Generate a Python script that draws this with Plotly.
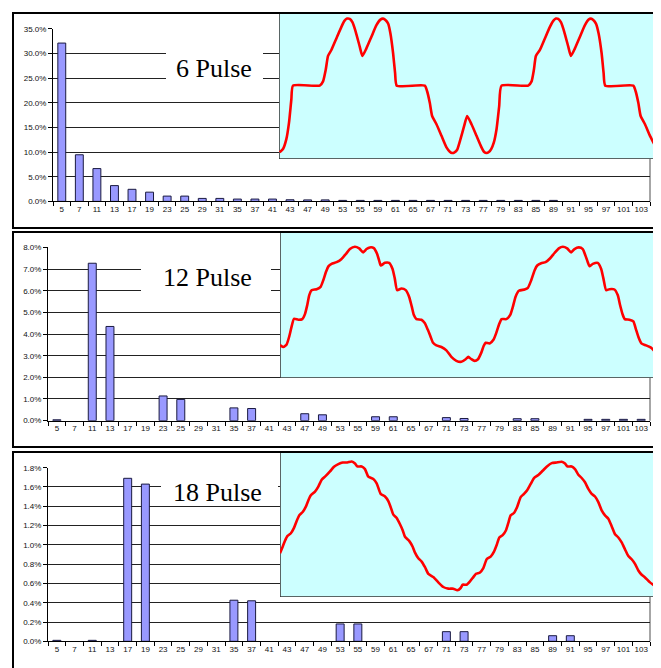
import plotly.graph_objects as go

# ---------------- data ----------------
harmonics = ["5", "7", "11", "13", "17", "19", "23", "25", "29", "31", "35", "37", "41", "43",
             "47", "49", "53", "55", "59", "61", "65", "67", "71", "73", "77", "79", "83", "85",
             "89", "91", "95", "97", "101", "103"]

pulse6 = [32.1, 9.45, 6.65, 3.2, 2.45, 1.87, 1.07, 1.07, 0.6, 0.6, 0.47, 0.47, 0.47, 0.33,
          0.3, 0.3, 0.2, 0.2, 0.2, 0.2, 0.2, 0.2, 0.2, 0.2, 0.2, 0.2, 0.2, 0.2,
          0.2, 0.0, 0.0, 0.0, 0.0, 0.0]

pulse12 = [0.04, 0.0, 7.27, 4.35, 0.0, 0.0, 1.14, 0.98, 0.0, 0.0, 0.59, 0.56, 0.0, 0.0,
           0.32, 0.27, 0.0, 0.0, 0.18, 0.18, 0.0, 0.0, 0.14, 0.1, 0.0, 0.0, 0.09, 0.09,
           0.0, 0.0, 0.06, 0.06, 0.06, 0.06]

pulse18 = [0.01, 0.0, 0.01, 0.0, 1.69, 1.63, 0.0, 0.0, 0.0, 0.0, 0.426, 0.42, 0.0, 0.0,
           0.0, 0.0, 0.18, 0.18, 0.0, 0.0, 0.0, 0.0, 0.1, 0.1, 0.0, 0.0, 0.0, 0.0,
           0.058, 0.058, 0.0, 0.0, 0.0, 0.0]

titles = ["6 Pulse", "12 Pulse", "18 Pulse"]

# waveforms (sample position, amplitude)
wave6_t = [30, 40, 50, 58, 65, 70, 150, 160, 168, 175, 185, 200, 215, 224, 232, 240, 248, 258, 270, 278,
           290, 305, 320, 332, 340, 347, 355, 362, 370, 376, 381, 465, 472, 480, 487, 500, 515, 530, 540,
           547, 554, 562, 572, 583, 592, 605, 620, 635, 643, 650, 657, 664, 672, 680, 688, 695, 775, 785,
           792, 798, 810, 825, 840, 850, 858, 865, 873, 883, 895, 903, 915, 930, 945, 956, 963, 970, 978,
           986, 995, 1001, 1006, 1090, 1097, 1105, 1112, 1125, 1140, 1158]
wave6_v = [-101, -96, -81, -56, -21, 0, 0, 6.5, 24, 45, 54, 71.5, 89, 98, 101.5, 101, 96, 81.5, 59, 45,
           56.5, 74, 91.5, 100, 101.5, 99.5, 94, 79, 49, 19, 0, 0, -8.5, -26, -46, -58.5, -76, -93.5, -100,
           -102, -101, -97, -81, -61, -46, -58.5, -76, -93.5, -100.5, -102, -100.5, -96, -86, -66, -31, 0, 0, 6.5,
           24, 45, 54, 71.5, 89, 98, 101.5, 101, 96, 81.5, 59, 45, 56.5, 74, 91.5, 100, 101.5, 99.5, 94,
           79, 49, 19, 0, 0, -8.5, -26, -46, -58.5, -76, -93.5]

wave12_t = [30, 40, 50, 58, 65, 72, 85, 97, 105, 112, 118, 125, 140, 152, 160, 168, 176, 185, 200, 215,
            228, 240, 255, 268, 280, 290, 300, 312, 322, 328, 333, 345, 358, 368, 375, 382, 395, 408, 418,
            426, 432, 440, 455, 465, 474, 482, 490, 500, 515, 530, 545, 560, 575, 588, 596, 605, 615, 625,
            635, 642, 648, 660, 672, 680, 688, 696, 710, 722, 730, 738, 748, 765, 775, 785, 795, 803, 815,
            828, 842, 855, 868, 880, 893, 905, 915, 928, 940, 948, 955, 960, 970, 985, 995, 1002, 1010,
            1020, 1035, 1045, 1052, 1060, 1066, 1080, 1092, 1100, 1108, 1116, 1130, 1145, 1160]
wave12_v = [-62, -65, -61, -48.5, -33.5, -22, -23.5, -22.5, -15, -1, 14, 21.5, 23, 26.5, 36.5, 49, 58,
            61.5, 64, 69, 76.5, 84, 87.5, 85, 79, 84, 86.5, 85.5, 76.5, 66.5, 59, 63, 63, 54, 39, 21.5, 24,
            21.5, 11.5, -3.5, -16, -22.5, -23.5, -28.5, -38.5, -48.5, -58.5, -62.5, -65, -70, -80, -86,
            -87.5, -83.5, -80, -83.5, -86, -83.5, -73.5, -63.5, -58.5, -59.5, -53.5, -43.5, -31, -22.5,
            -22.5, -16, -3.5, 11.5, 20.5, 22.5, 25, 36.5, 51.5, 59, 62.5, 64, 70, 78, 85, 87.5, 85, 79, 84,
            86.5, 84, 74, 64, 58, 61.5, 63, 54, 39, 21.5, 23, 22.5, 14, -1, -16, -22.5, -23.5, -26, -38.5,
            -51, -59.5, -62.5, -66, -73.5]

wave18_t = [30, 38, 45, 52, 62, 72, 80, 88, 98, 108, 115, 122, 135, 145, 155, 168, 180, 192, 205, 218,
            232, 245, 255, 262, 275, 285, 295, 310, 320, 332, 345, 355, 362, 370, 380, 390, 398, 405, 418,
            428, 435, 445, 455, 465, 475, 490, 505, 520, 535, 550, 562, 572, 578, 590, 600, 610, 618, 630,
            640, 650, 662, 672, 680, 688, 698, 708, 715, 722, 732, 742, 752, 762, 772, 782, 792, 805, 818,
            830, 845, 860, 875, 885, 892, 905, 915, 925, 935, 945, 955, 965, 975, 985, 995, 1005, 1015,
            1025, 1035, 1045, 1055, 1065, 1075, 1085, 1095, 1105, 1115, 1125, 1140, 1158]
wave18_v = [-42, -32, -23, -16, -12, -3.5, 7, 15.5, 20.5, 29, 38, 45.5, 51.5, 59, 69.5, 75.5, 82, 89, 93,
            95.5, 95.5, 97, 94, 89.5, 89.5, 85.5, 74, 70.5, 64, 48, 44, 37, 28, 16.5, 11.5, 2, -7, -17,
            -23.5, -32, -41, -49.5, -54.5, -63, -73, -78, -86, -93, -95.5, -95.5, -98, -94.5, -89.5, -89.5,
            -84.5, -78, -73, -71, -64.5, -51, -47, -39.5, -29.5, -18, -14.5, -7, 4, 15.5, 19, 29, 43, 48,
            54, 63, 72, 76.5, 83, 89, 94.5, 95.5, 96.5, 94, 89.5, 89.5, 85.5, 77, 72, 65.5, 55.5, 48, 44,
            35.5, 23, 15.5, 10.5, -1, -13, -18, -25.5, -36, -46, -51, -58, -68, -74.5, -78.5, -86, -93]

# ---------------- layout helpers ----------------
OFF = 8  # page body margin
W, H = 661 - OFF, 668 - OFF


def px(v):
    return (v - OFF) / W


def py(v):
    return 1 - (v - OFF) / H


def xd(a, b):
    return [px(a), px(b)]


def yd(top, bottom):
    return [py(bottom), py(top)]


fig = go.Figure()

bar_sets = [pulse6, pulse12, pulse18]
for i, vals in enumerate(bar_sets):
    n = "" if i == 0 else str(i + 1)
    fig.add_trace(go.Bar(x=harmonics, y=[v if v > 0 else None for v in vals],
                         xaxis="x" + n, yaxis="y" + n,
                         marker=dict(color="#9999FF", line=dict(color="#1a1a40", width=1)),
                         showlegend=False))

waves = [(wave6_t, wave6_v), (wave12_t, wave12_v), (wave18_t, wave18_v)]
for i, (t, v) in enumerate(waves):
    n = str(i + 4)
    fig.add_trace(go.Scatter(x=t, y=v, xaxis="x" + n, yaxis="y" + n, mode="lines",
                             line=dict(color="#FF0000", width=2.6, shape="spline", smoothing=0.5),
                             showlegend=False, cliponaxis=True))

tickfont = dict(family="Liberation Sans, Arial, sans-serif", size=8, color="#111")

bar_axes = [
    dict(xdom=(53, 650), ydom=(25, 200), rng=[0, 35], dtick=5),
    dict(xdom=(48, 650), ydom=(246.7, 422.3), rng=[0, 8], dtick=1),
    dict(xdom=(48, 650), ydom=(470, 646), rng=[0, 1.8], dtick=0.2),
]
layout = dict(
    width=W, height=H, autosize=False,
    margin=dict(l=0, r=0, t=0, b=0),
    paper_bgcolor="white", plot_bgcolor="rgba(0,0,0,0)",
    bargap=0.55, showlegend=False,
)
for i, a in enumerate(bar_axes):
    n = "" if i == 0 else str(i + 1)
    layout["xaxis" + n] = dict(domain=xd(*a["xdom"]), anchor="y" + n, type="category",
                               categoryorder="array", categoryarray=harmonics,
                               showline=True, linecolor="black", linewidth=1,
                               ticks="outside", tickson="boundaries", ticklen=4, tickcolor="black",
                               tickangle=0, tickfont=tickfont, showgrid=False, fixedrange=True)
    layout["yaxis" + n] = dict(domain=yd(*a["ydom"]), anchor="x" + n, range=a["rng"],
                               dtick=a["dtick"], tick0=0, tickformat=".1f", ticksuffix="%",
                               showline=True, linecolor="black", linewidth=1,
                               ticks="outside", ticklen=4, tickcolor="black",
                               showgrid=True, gridcolor="#222", gridwidth=1,
                               zeroline=False, tickfont=tickfont, fixedrange=True)

inset_axes = [
    dict(xdom=(279, 656), ydom=(9, 157), xr=[28, 1158], yr=[-111, 110]),
    dict(xdom=(280, 656), ydom=(230, 379), xr=[30, 1160], yr=[-112, 111.5]),
    dict(xdom=(280, 656), ydom=(453, 601), xr=[30, 1158], yr=[-108, 113]),
]
shapes = []
for i, a in enumerate(inset_axes):
    n = str(i + 4)
    layout["xaxis" + n] = dict(domain=xd(*a["xdom"]), anchor="y" + n, range=a["xr"],
                               visible=False, fixedrange=True)
    layout["yaxis" + n] = dict(domain=yd(*a["ydom"]), anchor="x" + n, range=a["yr"],
                               visible=False, fixedrange=True)
    shapes.append(dict(type="rect", xref="x" + n, yref="y" + n,
                       x0=a["xr"][0], x1=a["xr"][1], y0=a["yr"][0], y1=a["yr"][1],
                       fillcolor="#CCFFFF", line=dict(color="#333", width=1.5), layer="below"))

# right edge lines of the bar plot areas
for a in bar_axes:
    shapes.append(dict(type="line", xref="paper", yref="paper",
                       x0=px(650), x1=px(650), y0=py(a["ydom"][0]), y1=py(a["ydom"][1]),
                       line=dict(color="#888", width=1.5), layer="below"))

# panel borders
for top, bottom in [(9, 227), (231, 449), (454, 720)]:
    shapes.append(dict(type="rect", xref="paper", yref="paper",
                       x0=px(13), x1=px(656.5), y0=py(bottom), y1=py(top),
                       line=dict(color="black", width=2), fillcolor="rgba(0,0,0,0)", layer="above"))

# white boxes behind titles
for (x0, x1, y0, y1) in [(166, 263, 46, 80), (141, 271, 258, 299), (161, 278, 479, 504)]:
    shapes.append(dict(type="rect", xref="paper", yref="paper",
                       x0=px(x0), x1=px(x1), y0=py(y1), y1=py(y0),
                       fillcolor="white", line=dict(width=0), layer="above"))

annotations = []
for text, (cx, cy) in zip(titles, [(214, 65), (207, 277), (217, 495)]):
    annotations.append(dict(text=text, xref="paper", yref="paper", x=px(cx), y=py(cy),
                            xanchor="center", yanchor="middle", showarrow=False,
                            font=dict(family="Liberation Serif, Times New Roman, serif",
                                      size=26, color="black")))

layout["shapes"] = shapes
layout["annotations"] = annotations
fig.update_layout(**layout)

fig.write_html("out.html")
